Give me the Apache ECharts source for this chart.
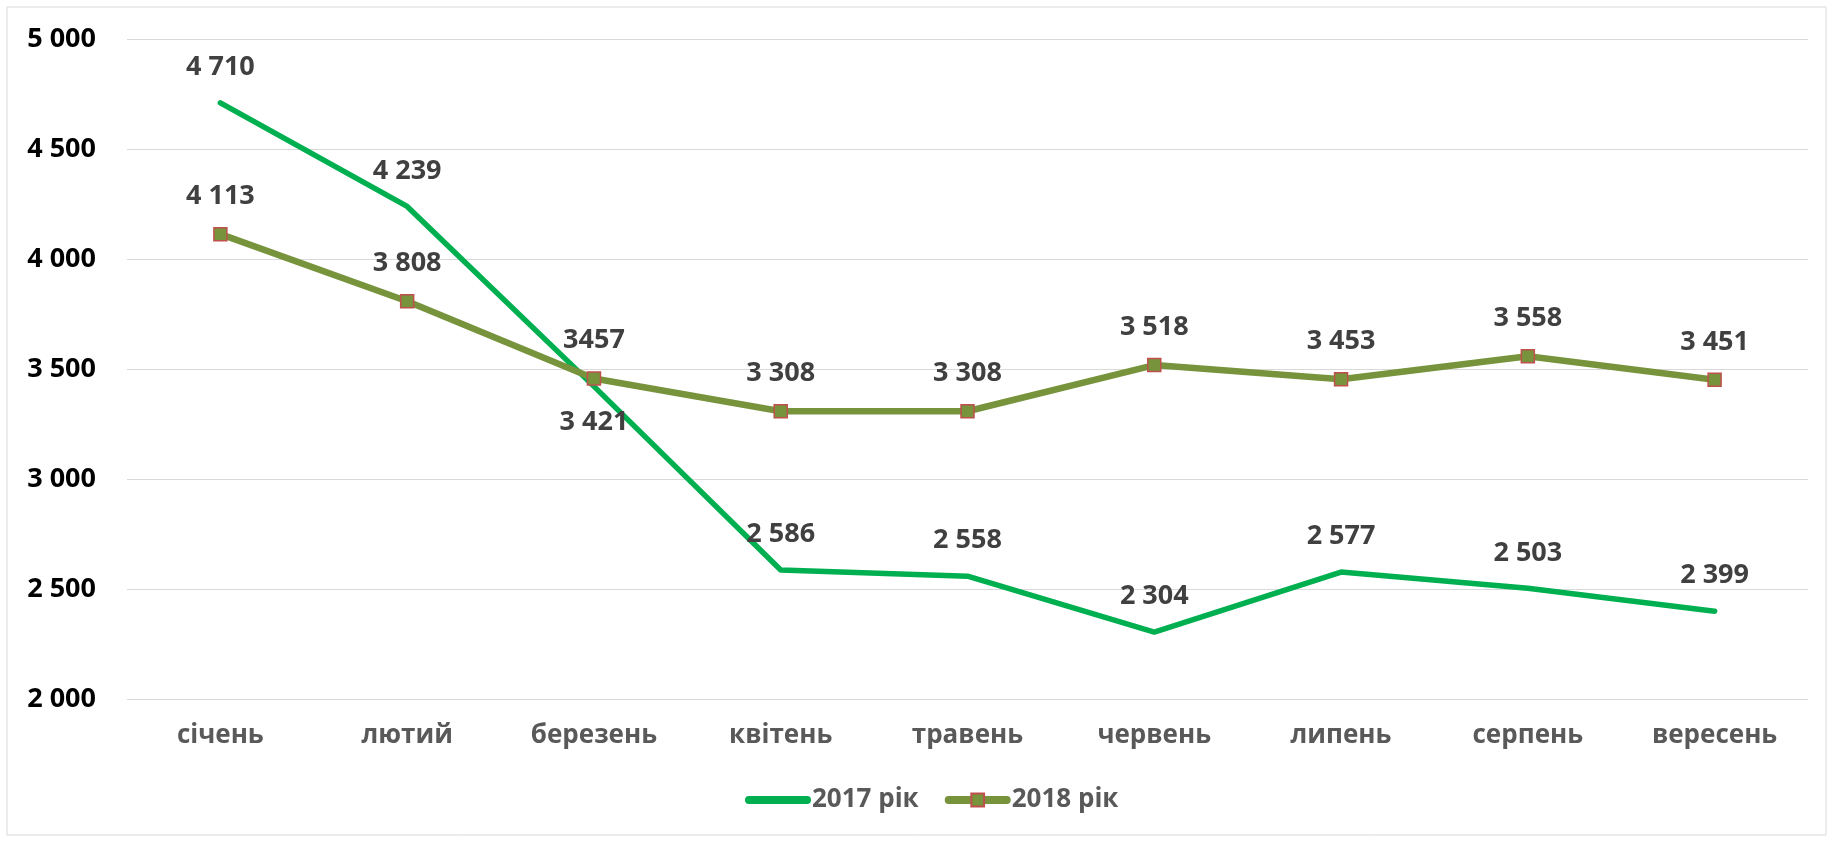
<!DOCTYPE html>
<html lang="uk">
<head>
    <meta charset="UTF-8">
    <title>2017 / 2018</title>
    <script src="https://cdn.jsdelivr.net/npm/echarts@6/dist/echarts.min.js"></script>
    <style type="text/css">
        *{
            margin: 0;
            padding: 0;
        }
        html, body{
            width: 100%;
            height: 100%;
            background: #fff;
        }
        #chart{
            width: 1833px;
            height: 842px;
        }
    </style>
</head>
<body>
    <div id="chart"></div>
</body>
<script>
    // місяці
    var months = ['січень', 'лютий', 'березень', 'квітень', 'травень', 'червень', 'липень', 'серпень', 'вересень'];
    var values2017 = [4710, 4239, 3421, 2586, 2558, 2304, 2577, 2503, 2399];
    var values2018 = [4113, 3808, 3457, 3308, 3308, 3518, 3453, 3558, 3451];
    // підписи 2018 як на оригіналі (3457 без пробілу)
    var labels2018 = ['4 113', '3 808', '3457', '3 308', '3 308', '3 518', '3 453', '3 558', '3 451'];
    var yTicks = [2000, 2500, 3000, 3500, 4000, 4500, 5000];

    var FONT = '"Open Sans", "Noto Sans", sans-serif';

    function spaced(v){
        return String(v).replace(/\B(?=(\d{3})+(?!\d))/g, ' ');
    }

    var myChart = echarts.init(document.getElementById('chart'));

    var data2017 = values2017.map(function (v, i) {
        var item = {value: v};
        if (i === 2) {
            item.label = {position: 'bottom', distance: 22};
        }
        return item;
    });

    var option = {
        backgroundColor: '#fff',
        animation: false,
        graphic: [{
            type: 'rect',
            shape: {x: 7, y: 7, width: 1819, height: 828},
            style: {fill: 'none', stroke: '#d9d9d9', lineWidth: 1},
            silent: true
        }],
        grid: {
            left: 127,
            right: 25,
            top: 39,
            bottom: 143,
            containLabel: false
        },
        legend: {
            bottom: 24,
            left: 740,
            itemWidth: 58,
            itemHeight: 16,
            itemGap: 26,
            textStyle: {
                fontFamily: FONT,
                fontWeight: 'bold',
                fontSize: 26,
                color: '#595959'
            },
            data: [
                {name: '2017 рік', itemStyle: {color: 'rgba(0,0,0,0)', borderWidth: 0}, lineStyle: {width: 8, cap: 'round'}},
                {name: '2018 рік', lineStyle: {width: 8, cap: 'round'}}
            ]
        },
        xAxis: {
            type: 'category',
            data: months,
            boundaryGap: true,
            axisLine: {show: false},
            axisTick: {show: false},
            axisLabel: {
                margin: 24,
                fontFamily: FONT,
                fontWeight: 'bold',
                fontSize: 26,
                color: '#595959'
            }
        },
        yAxis: {
            type: 'value',
            min: yTicks[0],
            max: yTicks[yTicks.length - 1],
            interval: 500,
            axisLine: {show: false},
            axisTick: {show: false},
            splitLine: {lineStyle: {color: '#d9d9d9', width: 1}},
            axisLabel: {
                margin: 31,
                fontFamily: FONT,
                fontWeight: 'bold',
                fontSize: 27,
                color: '#000',
                formatter: function (v) { return spaced(v); }
            }
        },
        series: [
            {
                name: '2017 рік',
                type: 'line',
                data: data2017,
                symbol: 'circle',
                symbolSize: 0,
                showSymbol: true,
                itemStyle: {color: '#00B050'},
                lineStyle: {color: '#00B050', width: 5.5, cap: 'round', join: 'round'},
                label: {
                    show: true,
                    position: 'top',
                    distance: 22,
                    fontFamily: FONT,
                    fontWeight: 'bold',
                    fontSize: 27,
                    color: '#404040',
                    formatter: function (p) { return spaced(p.value); }
                },
                z: 2
            },
            {
                name: '2018 рік',
                type: 'line',
                data: values2018,
                symbol: 'rect',
                symbolSize: 13,
                itemStyle: {color: '#77933C', borderColor: '#C0504D', borderWidth: 1.5},
                lineStyle: {color: '#77933C', width: 6.5, cap: 'round', join: 'round'},
                label: {
                    show: true,
                    position: 'top',
                    distance: 17,
                    fontFamily: FONT,
                    fontWeight: 'bold',
                    fontSize: 27,
                    color: '#404040',
                    formatter: function (p) { return labels2018[p.dataIndex]; }
                },
                z: 3
            }
        ]
    };
    myChart.setOption(option);
</script>
</html>
